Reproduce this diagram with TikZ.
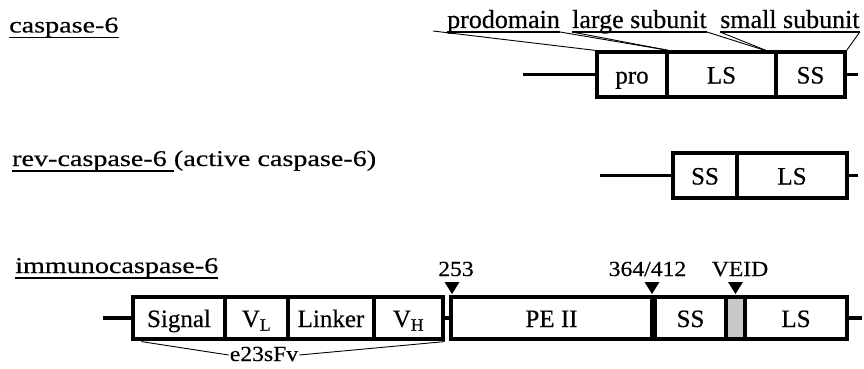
\documentclass[tikz,border=0pt]{standalone}
\usepackage{fontspec}
\setmainfont{Liberation Serif}[FakeBold=0.4]
\newfontfamily\widefam{Liberation Serif}[FakeStretch=1.25,FakeBold=0.4]
\newfontfamily\numfam{Liberation Serif}[FakeStretch=1.1,FakeBold=0.4]
\newcommand{\bigfnt}{\widefam\fontsize{22.5}{26}\selectfont}
\newcommand{\topfnt}{\fontsize{26}{30}\selectfont}
\newcommand{\boxfnt}{\fontsize{25}{28}\selectfont}
\newcommand{\smfnt}{\numfam\fontsize{21.5}{24}\selectfont}
\definecolor{greyfill}{RGB}{200,200,200}
\tikzset{
  seg/.style={draw, line width=3.2pt, inner sep=0pt, font=\boxfnt, text height=18pt, text depth=0pt},
  bone/.style={line width=3.2pt},
  thin/.style={line width=0.9pt},
  uline/.style={line width=1.1pt},
  lbl/.style={inner sep=0pt, anchor=base west},
  tri/.style={fill=black},
}
\begin{document}
\begin{tikzpicture}[x=1pt,y=-1pt]
\useasboundingbox (0,0) rectangle (864,369);
% ---------- caspase-6 ----------
\node[lbl, font=\bigfnt] (t1) at (9,32.5) {caspase-6};
\draw[uline] ([yshift=-5pt]t1.base west) -- ([yshift=-5pt]t1.base east);
\node[seg, minimum width=70pt, minimum height=45pt] (pro) at (632,74.5) {pro};
\node[seg, minimum width=109pt, minimum height=45pt] (ls1) at (721.5,74.5) {LS};
\node[seg, minimum width=69pt, minimum height=45pt] (ss1) at (810.5,74.5) {SS};
\coordinate (c1l) at (523,74.5);
\coordinate (c1r) at (858,74.5);
\draw[bone] (c1l) -- (pro.west);
\draw[bone] (ss1.east) -- (c1r);
% top labels
\node[lbl, font=\topfnt] (pd) at (447,28) {prodomain};
\node[lbl, font=\topfnt] (lg) at (572,28) {large subunit};
\node[lbl, font=\topfnt] (sm) at (720,28) {small subunit};
\draw[uline] ([yshift=-4pt]pd.base west) -- ([yshift=-4pt]pd.base east);
\draw[uline] ([yshift=-4pt]lg.base west) -- ([yshift=-4pt]lg.base east);
\draw[uline] ([yshift=-4pt]sm.base west) -- ([yshift=-4pt]sm.base east);
\coordinate (pdx) at (433,31);
\coordinate (m2) at (770,52);
\draw[thin] (pdx) -- (pro.north west);
\draw[thin] ([yshift=-4pt]pd.base east) -- (pro.north east);
\draw[thin] ([yshift=-4pt]lg.base west) -- (pro.north east);
\draw[thin] ([yshift=-4pt]lg.base east) -- (m2);
\draw[thin] ([yshift=-4pt]sm.base west) -- (m2);
\draw[thin] ([yshift=-4pt]sm.base east) -- (ss1.north east);
% ---------- rev-caspase-6 ----------
\node[lbl, font=\bigfnt] (t2) at (12,166) {rev-caspase-6\kern0.3em};
\draw[uline] ([yshift=-5pt]t2.base west) -- ([yshift=-5pt]t2.base east);
\node[lbl, font=\bigfnt] (t2b) at (t2.base east) {(active caspase-6)};
\node[seg, minimum width=64pt, minimum height=45pt] (ss2) at (705,175.5) {SS};
\node[seg, minimum width=110pt, minimum height=45pt] (ls2) at (792,175.5) {LS};
\coordinate (c2l) at (600,175.5);
\coordinate (c2r) at (858,175.5);
\draw[bone] (c2l) -- (ss2.west);
\draw[bone] (ls2.east) -- (c2r);
% ---------- immunocaspase-6 ----------
\node[lbl, font=\bigfnt] (t3) at (15,273) {immunocaspase-6};
\draw[uline] ([yshift=-5pt]t3.base west) -- ([yshift=-5pt]t3.base east);
\node[seg, minimum width=92pt, minimum height=42pt] (sig) at (179,318) {Signal};
\node[seg, minimum width=63pt, minimum height=42pt] (vl) at (256.5,318) {V\textsubscript{L}};
\node[seg, minimum width=86pt, minimum height=42pt] (lnk) at (331,318) {Linker};
\node[seg, minimum width=69pt, minimum height=42pt] (vh) at (408.5,318) {V\textsubscript{H}};
\node[seg, minimum width=201pt, minimum height=42pt] (pe) at (551.5,318) {PE II};
\node[seg, minimum width=71pt, minimum height=42pt] (ss3) at (690.5,318) {SS};
\node[seg, fill=greyfill, minimum width=19pt, minimum height=42pt] (gr) at (735.5,318) {};
\node[seg, minimum width=102pt, minimum height=42pt] (ls3) at (796,318) {LS};
\coordinate (c3l) at (103,318);
\coordinate (c3r) at (862,318);
\draw[bone] (c3l) -- (sig.west);
\draw[bone] (vh.east) -- (pe.west);
\draw[bone] (ls3.east) -- (c3r);
% markers
\coordinate (k1) at (452,294);
\coordinate (k2) at (652,294);
\coordinate (k3) at (735.5,294);
\fill[tri] (k1) -- ++(-7.5,-12) -- ++(15,0) -- cycle;
\fill[tri] (k2) -- ++(-7.5,-12) -- ++(15,0) -- cycle;
\fill[tri] (k3) -- ++(-7.5,-12) -- ++(15,0) -- cycle;
\node[inner sep=0pt, anchor=base, font=\smfnt] (n1) at (456,276) {253};
\node[inner sep=0pt, anchor=base, font=\smfnt] (n2) at (647.5,276) {364/412};
\node[inner sep=0pt, anchor=base, font=\smfnt] (n3) at (740,276) {VEID};
% e23sFv
\node[inner sep=1pt, anchor=base, font=\smfnt] (sfv) at (264,361) {e23sFv};
\draw[thin] ([xshift=10pt,yshift=-1pt]sig.south west) -- ([yshift=6pt]sfv.base west);
\draw[thin] ([yshift=6pt]sfv.base east) -- ([yshift=-1pt]vh.south east);
\end{tikzpicture}
\end{document}
